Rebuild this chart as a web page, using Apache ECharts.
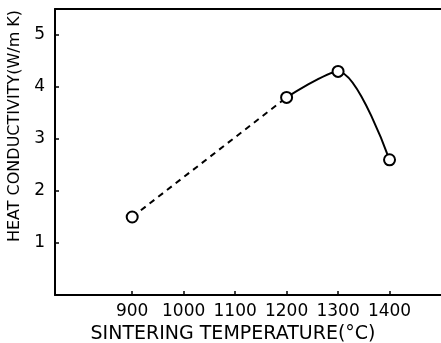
<!DOCTYPE html>
<html>
<head>
<meta charset="utf-8">
<script src="https://cdn.jsdelivr.net/npm/echarts@6/dist/echarts.min.js"></script>
<style>
  html, body { margin: 0; padding: 0; background: #fff; }
  #chart { width: 441px; height: 343px; }
</style>
</head>
<body>
<div id="chart"></div>
<script>
// measured points (sintering temperature in °C, conductivity in W/m K)
var temps = [900, 1200, 1300, 1400];
var conductivity = [1.5, 3.8, 4.3, 2.6];
var xTicks = [900, 1000, 1100, 1200, 1300, 1400];
var yTicks = [1, 2, 3, 4, 5];

var pts = temps.map(function (t, i) { return [t, conductivity[i]]; });

var font = 'DejaVu Sans';

var option = {
    backgroundColor: '#fff',
    animation: false,
    grid: { left: 55, top: 9, right: 0, bottom: 48, outerBoundsMode: 'none' },
    xAxis: [
        {
            type: 'value',
            min: 750,
            max: 1500,
            name: 'SINTERING TEMPERATURE(°C)',
            nameLocation: 'middle',
            nameGap: 30,
            nameTextStyle: { fontFamily: font, fontSize: 19, color: '#000', padding: [0, 30, 0, 0] },
            axisLine: { lineStyle: { color: '#000', width: 2 } },
            axisTick: { inside: true, length: 4, customValues: xTicks, lineStyle: { color: '#000', width: 1.5 } },
            axisLabel: {
                customValues: xTicks, margin: 8, fontFamily: font, fontSize: 17, color: '#000',
                formatter: function (v) { return String(v); }
            },
            splitLine: { show: false }
        },
        {
            // top frame line
            type: 'value',
            position: 'top',
            min: 750,
            max: 1500,
            axisLine: { show: true, lineStyle: { color: '#000', width: 2 } },
            axisTick: { show: false },
            axisLabel: { show: false },
            splitLine: { show: false }
        }
    ],
    yAxis: {
        type: 'value',
        min: 0,
        max: 5.5,
        name: 'HEAT CONDUCTIVITY(W/m K)',
        nameLocation: 'middle',
        nameGap: 27,
        nameTextStyle: { fontFamily: font, fontSize: 16, color: '#000', padding: [0, 0, 0, 52] },
        axisLine: { show: true, lineStyle: { color: '#000', width: 2 } },
        axisTick: { inside: true, length: 4, customValues: yTicks, lineStyle: { color: '#000', width: 1.5 } },
        axisLabel: { customValues: yTicks, margin: 10, fontFamily: font, fontSize: 17, color: '#000' },
        splitLine: { show: false }
    },
    series: [
        {
            type: 'line',
            data: pts.slice(0, 2),
            symbol: 'none',
            lineStyle: { color: '#000', width: 2, type: [6, 5] },
            z: 2
        },
        {
            type: 'line',
            data: pts.slice(1),
            smooth: 0.3,
            symbol: 'none',
            lineStyle: { color: '#000', width: 2 },
            z: 2
        },
        {
            type: 'scatter',
            data: pts,
            symbol: 'circle',
            symbolSize: 11,
            itemStyle: { color: '#fff', borderColor: '#000', borderWidth: 2, opacity: 1 },
            z: 3
        }
    ]
};

var mychart = echarts.init(document.getElementById('chart'));
mychart.setOption(option);
</script>
</body>
</html>
